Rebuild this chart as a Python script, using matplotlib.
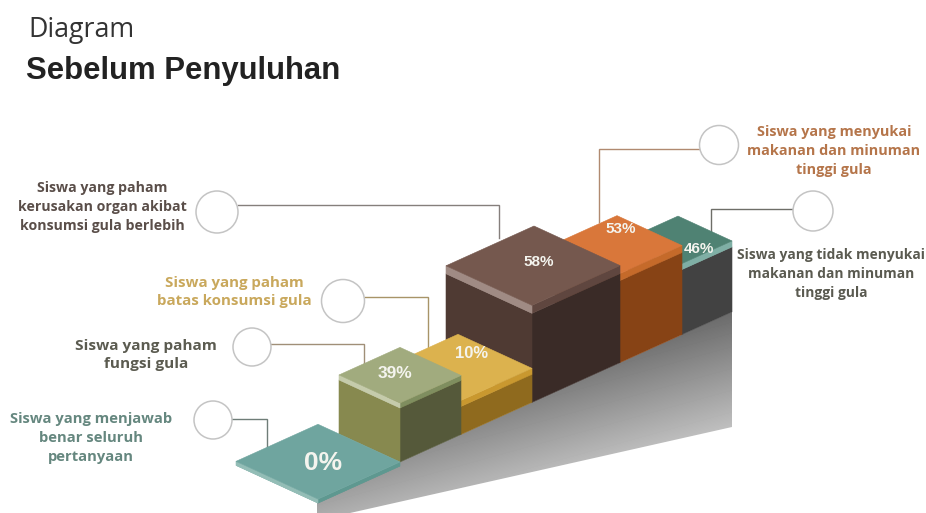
"""
Stepped isometric infographic: knowledge survey results before the counselling session.
Everything is drawn on one full-figure axes whose units are pixels.
"""

import numpy as np
import matplotlib
matplotlib.use("Agg")
import matplotlib.pyplot as plt
from matplotlib.patches import Polygon, Circle

WIDTH, HEIGHT = 926, 513

# ---------------------------------------------------------------------------
# Data
# ---------------------------------------------------------------------------

categories = [
    "Siswa yang menjawab\nbenar seluruh\npertanyaan",
    "Siswa yang paham\nfungsi gula",
    "Siswa yang paham\nbatas konsumsi gula",
    "Siswa yang paham\nkerusakan organ akibat\nkonsumsi gula berlebih",
    "Siswa yang menyukai\nmakanan dan minuman\ntinggi gula",
    "Siswa yang tidak menyukai\nmakanan dan minuman\ntinggi gula",
]
percent = [0, 39, 10, 58, 53, 46]

# value -> step height, the steps are not drawn on a linear scale
scale_pct = [0, 10, 39, 46, 53, 58]
scale_px = [4, 34, 59, 71, 89, 97]

# ---------------------------------------------------------------------------
# Step layout
# ---------------------------------------------------------------------------

step_edges = [318, 400, 461, 532, 620, 682, 732]
step_depth = [82, 61, 74, 86, 65, 54]
step_lip = [4, 5, 6, 8, 7, 6]
step_drop = [4, 0, 0, 0, 0, 0]

top_colors = ["#6fa59f", "#a1ab7e", "#dcb24e", "#75584e", "#d9773a", "#4f8273"]
left_lip_colors = ["#93bdb6", "#c5cbab", "#c9982f", "#a08b84", "#c56a2a", "#7fafa5"]
right_lip_colors = ["#5e9890", "#7f8e5f", "#c9982f", "#5f463f", "#c56a2a", "#7fafa5"]
left_colors = ["#5e9890", "#87894f", "#8f6a1e", "#4f3a33", "#874315", "#424242"]
right_colors = ["#5e9890", "#55593a", "#8f6a1e", "#3a2b27", "#874315", "#424242"]

label_xy = [(323, 463), (395, 374), (472, 354), (539, 262), (621, 229), (699, 249)]
label_size = [19, 12.5, 12, 11, 11, 11]

text_xy = [(91, 438), (146, 355), (234, 292), (102, 207), (834, 151), (831, 274)]
text_colors = ["#65877f", "#5b5b50", "#c9a85c", "#5a4e49", "#b5754a", "#5a5a50"]
text_size = [10.6, 11.1, 10.8, 10.2, 10.4, 9.95]

circles = [(213, 420, 19), (252, 347, 19), (343, 301, 21.5),
           (217, 212, 21), (719, 145, 19.5), (813, 211, 20)]
leaders = [
    [(232, 419), (267, 419), (267, 449)],
    [(271, 344), (364, 344), (364, 372)],
    [(365, 297), (428, 297), (428, 347)],
    [(238, 205), (499, 205), (499, 238)],
    [(700, 149), (599, 149), (599, 222)],
    [(793, 209), (711, 209), (711, 236)],
]
leader_colors = ["#6f7d78", "#a08f78", "#a89468", "#857f7c", "#b08a70", "#6e6e68"]

SLOPE = 0.452
BASE_X, BASE_Y = 400, 462
DEPTH_SLOPE = 0.46


def base_y(x):
    return BASE_Y - SLOPE * (x - BASE_X)


def face(ax, pts, color, z):
    ax.add_patch(Polygon(pts, closed=True, facecolor=color, edgecolor=color,
                         linewidth=0.4, zorder=z))


def draw_step(ax, i, z):
    """Draw one isometric box, its height comes from the percentage."""
    x0, x1 = step_edges[i], step_edges[i + 1]
    depth = step_depth[i]
    h = np.interp(percent[i], scale_pct, scale_px)
    lip = step_lip[i]
    drop = step_drop[i]

    front_bot = base_y(x0) + drop
    right_bot = base_y(x1) + drop
    left_bot = front_bot - depth * DEPTH_SLOPE
    dx, dy = -depth, -depth * DEPTH_SLOPE

    front_top = front_bot - h
    right_top = right_bot - h
    left_top = left_bot - h
    apex = (x1 + dx, right_top + dy)

    # side walls under the lip
    face(ax, [(x0, front_top + lip), (x1, right_top + lip), (x1, right_bot), (x0, front_bot)],
         right_colors[i], z)
    face(ax, [(x0 + dx, left_top + lip), (x0, front_top + lip), (x0, front_bot), (x0 + dx, left_bot)],
         left_colors[i], z)
    # lip running around the top plate
    face(ax, [(x0, front_top), (x1, right_top), (x1, right_top + lip), (x0, front_top + lip)],
         right_lip_colors[i], z + 0.1)
    face(ax, [(x0 + dx, left_top), (x0, front_top), (x0, front_top + lip), (x0 + dx, left_top + lip)],
         left_lip_colors[i], z + 0.1)
    # top plate
    face(ax, [(x0, front_top), (x1, right_top), apex, (x0 + dx, left_top)],
         top_colors[i], z + 0.2)


def draw_shadow(ax):
    """Grey wedge under the stairs, darker to the right and along the base line."""
    pts = [(317, 513), (317, 503), (400, 462), (732, 312), (732, 427), (350, 513)]
    yy, xx = np.mgrid[0:HEIGHT, 0:WIDTH]
    dist = np.clip((yy - base_y(xx)) / 115.0, 0, 1)
    gray = 0.42 + 0.20 * (732 - xx) / 400.0 + 0.33 * dist
    im = ax.imshow(gray, cmap="gray", vmin=0, vmax=1, extent=(0, WIDTH, HEIGHT, 0),
                   zorder=1, interpolation="bilinear")
    clip = Polygon(pts, closed=True, transform=ax.transData, facecolor="none", edgecolor="none")
    ax.add_patch(clip)
    im.set_clip_path(clip)


fig = plt.figure(figsize=(WIDTH / 100, HEIGHT / 100), dpi=100)
ax = fig.add_axes([0, 0, 1, 1])
draw_shadow(ax)
ax.set_xlim(0, WIDTH)
ax.set_ylim(HEIGHT, 0)
ax.axis("off")

# back steps first so the nearer ones cover them
for i in range(len(percent) - 1, -1, -1):
    draw_step(ax, i, 5 + (len(percent) - i))

for pts, color in zip(leaders, leader_colors):
    xs, ys = zip(*pts)
    ax.plot(xs, ys, color=color, lw=1.0, zorder=3, solid_joinstyle="miter")

for (cx, cy, r) in circles:
    ax.add_patch(Circle((cx, cy), r, facecolor="white", edgecolor="#c4c4c4", lw=1.1, zorder=4))

for i, pct in enumerate(percent):
    ax.text(label_xy[i][0], label_xy[i][1], f"{pct}%", color="#f4f4ee",
            family="Liberation Sans", weight="bold", fontsize=label_size[i],
            ha="center", va="center", zorder=30)

for i, name in enumerate(categories):
    ax.text(text_xy[i][0], text_xy[i][1], name, color=text_colors[i],
            family="Open Sans", weight="bold", fontsize=text_size[i],
            ha="center", va="center", linespacing=1.42, zorder=30)

ax.text(28, 30, "Diagram", family="Open Sans", fontsize=19.3, color="#333333",
        ha="left", va="center")
ax.text(26, 71, "Sebelum Penyuluhan", family="Liberation Sans", weight="bold",
        fontsize=22.4, color="#222222", ha="left", va="center")

fig.savefig("out.png", dpi=100)
